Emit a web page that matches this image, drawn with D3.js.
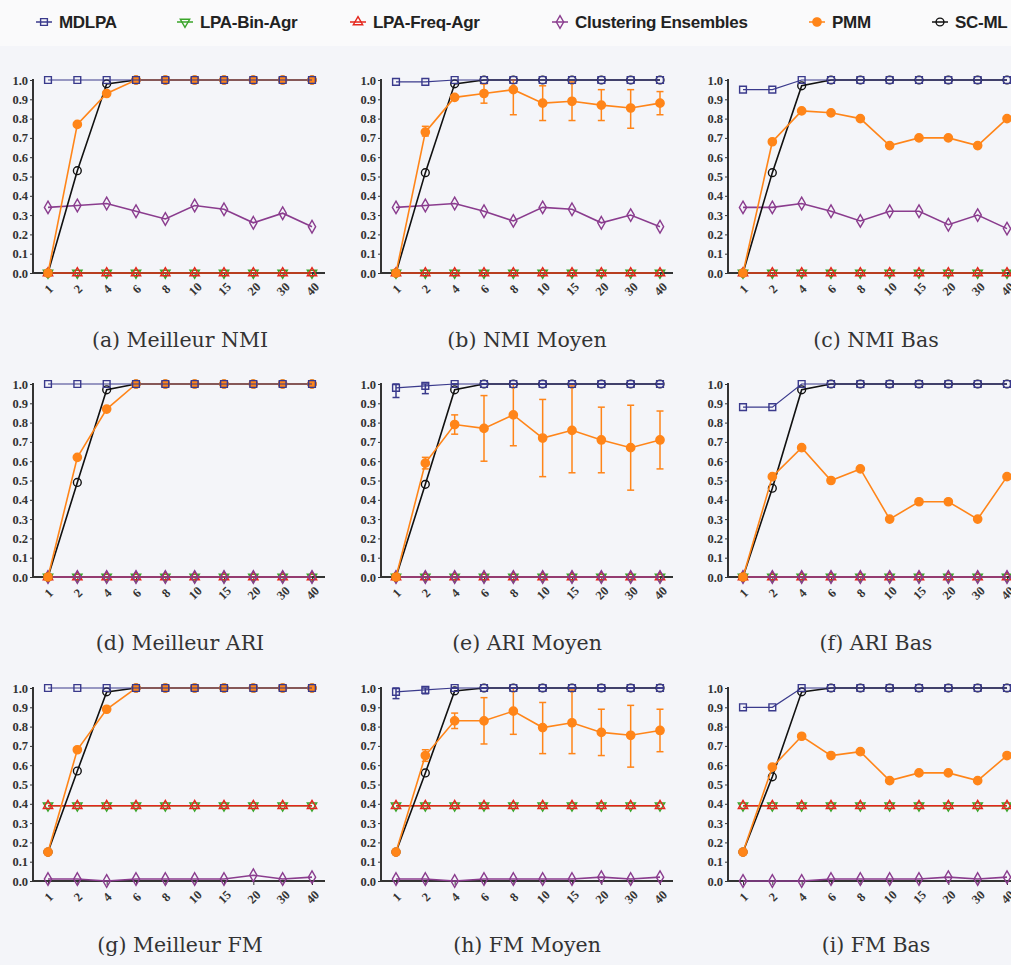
<!DOCTYPE html>
<html>
<head>
<meta charset="utf-8">
<script src="https://cdn.jsdelivr.net/npm/d3@7"></script>
<style>
  body { margin: 0; background: #f4f5f9; }
  svg { display: block; }
  .tick text { font-family: "Liberation Serif", serif; font-weight: bold; font-size: 12.5px; fill: #333; }
  .tick line { stroke: #333; }
  .caption { font-family: "DejaVu Serif", serif; font-size: 20.5px; fill: #333; }
  .legend text { font-family: "Liberation Sans Narrow", "Liberation Sans", sans-serif; font-weight: bold; font-size: 17px; fill: #222; letter-spacing: -0.3px; }
</style>
</head>
<body>
<div id="chart"></div>
<script>
"use strict";

var categories = ["1", "2", "4", "6", "8", "10", "15", "20", "30", "40"];
var yTicks = [0, 0.1, 0.2, 0.3, 0.4, 0.5, 0.6, 0.7, 0.8, 0.9, 1.0];
var captions = [
  "(a) Meilleur NMI", "(b) NMI Moyen", "(c) NMI Bas",
  "(d) Meilleur ARI", "(e) ARI Moyen", "(f) ARI Bas",
  "(g) Meilleur FM", "(h) FM Moyen", "(i) FM Bas"
];
var seriesNames = ["MDLPA", "LPA-Bin-Agr", "LPA-Freq-Agr", "Clustering Ensembles", "PMM", "SC-ML"];

//one row per panel, a to i
var mdlpa = [
  [1, 1, 1, 1, 1, 1, 1, 1, 1, 1],
  [0.99, 0.99, 1, 1, 1, 1, 1, 1, 1, 1],
  [0.95, 0.95, 1, 1, 1, 1, 1, 1, 1, 1],
  [1, 1, 1, 1, 1, 1, 1, 1, 1, 1],
  [0.98, 0.99, 1, 1, 1, 1, 1, 1, 1, 1],
  [0.88, 0.88, 1, 1, 1, 1, 1, 1, 1, 1],
  [1, 1, 1, 1, 1, 1, 1, 1, 1, 1],
  [0.98, 0.99, 1, 1, 1, 1, 1, 1, 1, 1],
  [0.90, 0.90, 1, 1, 1, 1, 1, 1, 1, 1]
];
var mdlpaLo = [null, null, null, null,
  [0.93, 0.95, 1, 1, 1, 1, 1, 1, 1, 1], null, null,
  [0.945, 0.97, 1, 1, 1, 1, 1, 1, 1, 1], null];
var mdlpaHi = [null, null, null, null,
  [1, 1, 1, 1, 1, 1, 1, 1, 1, 1], null, null,
  [1, 1, 1, 1, 1, 1, 1, 1, 1, 1], null];

var lpaBin = [
  [0, 0, 0, 0, 0, 0, 0, 0, 0, 0],
  [0, 0, 0, 0, 0, 0, 0, 0, 0, 0],
  [0, 0, 0, 0, 0, 0, 0, 0, 0, 0],
  [0, 0, 0, 0, 0, 0, 0, 0, 0, 0],
  [0, 0, 0, 0, 0, 0, 0, 0, 0, 0],
  [0, 0, 0, 0, 0, 0, 0, 0, 0, 0],
  [0.39, 0.39, 0.39, 0.39, 0.39, 0.39, 0.39, 0.39, 0.39, 0.39],
  [0.39, 0.39, 0.39, 0.39, 0.39, 0.39, 0.39, 0.39, 0.39, 0.39],
  [0.39, 0.39, 0.39, 0.39, 0.39, 0.39, 0.39, 0.39, 0.39, 0.39]
];
var lpaFreq = [
  [0, 0, 0, 0, 0, 0, 0, 0, 0, 0],
  [0, 0, 0, 0, 0, 0, 0, 0, 0, 0],
  [0, 0, 0, 0, 0, 0, 0, 0, 0, 0],
  [0, 0, 0, 0, 0, 0, 0, 0, 0, 0],
  [0, 0, 0, 0, 0, 0, 0, 0, 0, 0],
  [0, 0, 0, 0, 0, 0, 0, 0, 0, 0],
  [0.39, 0.39, 0.39, 0.39, 0.39, 0.39, 0.39, 0.39, 0.39, 0.39],
  [0.39, 0.39, 0.39, 0.39, 0.39, 0.39, 0.39, 0.39, 0.39, 0.39],
  [0.39, 0.39, 0.39, 0.39, 0.39, 0.39, 0.39, 0.39, 0.39, 0.39]
];
var ce = [
  [0.34, 0.35, 0.36, 0.32, 0.28, 0.35, 0.33, 0.26, 0.31, 0.24],
  [0.34, 0.35, 0.36, 0.32, 0.27, 0.34, 0.33, 0.26, 0.30, 0.24],
  [0.34, 0.34, 0.36, 0.32, 0.27, 0.32, 0.32, 0.25, 0.30, 0.23],
  [0, 0, 0, 0, 0, 0, 0, 0, 0, 0],
  [0, 0, 0, 0, 0, 0, 0, 0, 0, 0],
  [0, 0, 0, 0, 0, 0, 0, 0, 0, 0],
  [0.01, 0.01, 0, 0.01, 0.01, 0.01, 0.01, 0.03, 0.01, 0.02],
  [0.01, 0.01, 0, 0.01, 0.01, 0.01, 0.01, 0.02, 0.01, 0.02],
  [0, 0, 0, 0.01, 0.01, 0.01, 0.01, 0.02, 0.01, 0.02]
];
var pmm = [
  [0, 0.77, 0.93, 1, 1, 1, 1, 1, 1, 1],
  [0, 0.73, 0.91, 0.93, 0.95, 0.88, 0.89, 0.87, 0.855, 0.88],
  [0, 0.68, 0.84, 0.83, 0.80, 0.66, 0.70, 0.70, 0.66, 0.80],
  [0, 0.62, 0.87, 1, 1, 1, 1, 1, 1, 1],
  [0, 0.59, 0.79, 0.77, 0.84, 0.72, 0.76, 0.71, 0.67, 0.71],
  [0, 0.52, 0.67, 0.50, 0.56, 0.30, 0.39, 0.39, 0.30, 0.52],
  [0.15, 0.68, 0.89, 1, 1, 1, 1, 1, 1, 1],
  [0.15, 0.65, 0.83, 0.83, 0.88, 0.795, 0.82, 0.77, 0.755, 0.78],
  [0.15, 0.59, 0.75, 0.65, 0.67, 0.52, 0.56, 0.56, 0.52, 0.65]
];
var pmmLo = [null,
  [0, 0.71, 0.90, 0.88, 0.82, 0.79, 0.79, 0.79, 0.75, 0.82],
  null, null,
  [0, 0.56, 0.74, 0.60, 0.68, 0.52, 0.54, 0.54, 0.45, 0.56],
  null, null,
  [0.15, 0.62, 0.79, 0.71, 0.76, 0.66, 0.66, 0.65, 0.59, 0.67],
  null];
var pmmHi = [null,
  [0, 0.76, 0.92, 0.98, 1.0, 0.97, 0.99, 0.95, 0.95, 0.94],
  null, null,
  [0, 0.62, 0.84, 0.94, 1.0, 0.92, 0.99, 0.88, 0.89, 0.86],
  null, null,
  [0.15, 0.68, 0.87, 0.95, 1.0, 0.925, 0.99, 0.89, 0.91, 0.89],
  null];
var scml = [
  [0, 0.53, 0.98, 1, 1, 1, 1, 1, 1, 1],
  [0, 0.52, 0.98, 1, 1, 1, 1, 1, 1, 1],
  [0, 0.52, 0.97, 1, 1, 1, 1, 1, 1, 1],
  [0, 0.49, 0.97, 1, 1, 1, 1, 1, 1, 1],
  [0, 0.48, 0.97, 1, 1, 1, 1, 1, 1, 1],
  [0, 0.46, 0.97, 1, 1, 1, 1, 1, 1, 1],
  [0.15, 0.57, 0.98, 1, 1, 1, 1, 1, 1, 1],
  [0.15, 0.56, 0.985, 1, 1, 1, 1, 1, 1, 1],
  [0.15, 0.54, 0.98, 1, 1, 1, 1, 1, 1, 1]
];

var w = 1011,
  h = 965;

//panel grid: y axis x position and top (value 1.0) per column / row
var colX = [33, 381, 728],
  rowTop = [80, 384, 688],
  plotH = 193,
  captionX = [180, 527, 876],
  captionY = [340, 643, 945];

//drawing order matters: mdlpa squares end up on top
var styles = [
  { key: "lpaBin", color: "#3aa52a", sym: d3.symbolTriangle, size: 38, rot: 180, fill: "none" },
  { key: "lpaFreq", color: "#e5261c", sym: d3.symbolTriangle, size: 38, rot: 0, fill: "none" },
  { key: "ce", color: "#8a3c8e", sym: d3.symbolDiamond, size: 46, rot: 0, fill: "none" },
  { key: "scml", color: "#111111", sym: d3.symbolCircle, size: 48, rot: 0, fill: "none" },
  { key: "pmm", color: "#ff8519", sym: d3.symbolCircle, size: 54, rot: 0, fill: "#ff8519" },
  { key: "mdlpa", color: "#3a3a8c", sym: d3.symbolSquare, size: 46, rot: 0, fill: "none" }
];
var dataByKey = { mdlpa: mdlpa, lpaBin: lpaBin, lpaFreq: lpaFreq, ce: ce, pmm: pmm, scml: scml };
var loByKey = { mdlpa: mdlpaLo, pmm: pmmLo };
var hiByKey = { mdlpa: mdlpaHi, pmm: pmmHi };

var svg = d3
  .select("#chart")
  .append("svg")
  .attr("width", w)
  .attr("height", h);

svg.append("rect").attr("width", w).attr("height", 46).attr("fill", "#fafafb");

//legend
var legendItems = [
  { name: seriesNames[0], style: styles[5], x: 44 },
  { name: seriesNames[1], style: styles[0], x: 185 },
  { name: seriesNames[2], style: styles[1], x: 358 },
  { name: seriesNames[3], style: styles[2], x: 560 },
  { name: seriesNames[4], style: styles[4], x: 817 },
  { name: seriesNames[5], style: styles[3], x: 940 }
];

var legend = svg.append("g").attr("class", "legend");
legendItems.forEach(function(d) {
  var g = legend.append("g").attr("transform", "translate(" + d.x + ",22)");
  g.append("line")
    .attr("x1", -8)
    .attr("x2", 8)
    .attr("stroke", d.style.color)
    .attr("stroke-width", 1.5);
  g.append("path")
    .attr("d", d3.symbol().type(d.style.sym).size(d.style.size)())
    .attr("transform", "rotate(" + d.style.rot + ")")
    .attr("fill", d.style.fill)
    .attr("stroke", d.style.color)
    .attr("stroke-width", 1.4);
  g.append("text")
    .attr("x", 15)
    .attr("dy", "0.36em")
    .text(d.name);
});

function drawPanel(p) {
  var ax = colX[p % 3],
    top = rowTop[Math.floor(p / 3)],
    bottom = top + plotH;

  var x = d3
    .scalePoint()
    .domain(categories)
    .range([ax + 15, ax + 279]);

  var y = d3
    .scaleLinear()
    .domain([0, 1])
    .range([bottom, top]);

  var g = svg.append("g").attr("class", "panel");

  //axes
  g.append("g")
    .attr("transform", "translate(" + ax + ",0)")
    .call(
      d3
        .axisLeft(y)
        .tickValues(yTicks)
        .tickFormat(d3.format(".1f"))
        .tickSize(3)
        .tickPadding(2)
    )
    .call(function(s) {
      s.select(".domain").remove();
    });

  var xa = g
    .append("g")
    .attr("transform", "translate(0," + bottom + ")")
    .call(d3.axisBottom(x).tickSize(4).tickSizeOuter(0));
  xa.select(".domain").remove();
  //rotated labels centred under each tick
  xa.selectAll("text")
    .attr("y", 0)
    .attr("dy", "0.35em")
    .attr("text-anchor", "middle")
    .attr("transform", "translate(0,16) rotate(-45)");

  g.append("line")
    .attr("x1", ax)
    .attr("x2", ax)
    .attr("y1", top - 1)
    .attr("y2", bottom)
    .attr("stroke", "#333")
    .attr("stroke-width", 2);
  g.append("line")
    .attr("x1", ax)
    .attr("x2", ax + 292)
    .attr("y1", bottom)
    .attr("y2", bottom)
    .attr("stroke", "#333")
    .attr("stroke-width", 2);

  var line = d3
    .line()
    .x(function(d, i) {
      return x(categories[i]);
    })
    .y(function(d) {
      return y(d);
    });

  styles.forEach(function(st) {
    var vals = dataByKey[st.key][p];
    var lo = loByKey[st.key] ? loByKey[st.key][p] : null;
    var hi = hiByKey[st.key] ? hiByKey[st.key][p] : null;
    var sg = g.append("g").attr("class", st.key);

    //error bars
    if (lo && hi) {
      var eb = sg
        .selectAll(".err")
        .data(vals)
        .enter()
        .append("g")
        .attr("class", "err")
        .attr("stroke", st.color)
        .attr("stroke-width", 1.5);
      eb.append("line")
        .attr("x1", function(d, i) { return x(categories[i]); })
        .attr("x2", function(d, i) { return x(categories[i]); })
        .attr("y1", function(d, i) { return y(lo[i]); })
        .attr("y2", function(d, i) { return y(hi[i]); });
      [lo, hi].forEach(function(arr) {
        eb.append("line")
          .attr("x1", function(d, i) { return x(categories[i]) - 3.5; })
          .attr("x2", function(d, i) { return x(categories[i]) + 3.5; })
          .attr("y1", function(d, i) { return y(arr[i]); })
          .attr("y2", function(d, i) { return y(arr[i]); });
      });
    }

    sg.append("path")
      .attr("d", line(vals))
      .attr("fill", "none")
      .attr("stroke", st.color)
      .attr("stroke-width", st.key === "mdlpa" ? 1.2 : 1.6);

    sg.selectAll(".mark")
      .data(vals)
      .enter()
      .append("path")
      .attr("class", "mark")
      .attr("d", d3.symbol().type(st.sym).size(st.size)())
      .attr("transform", function(d, i) {
        return "translate(" + x(categories[i]) + "," + y(d) + ") rotate(" + st.rot + ")";
      })
      .attr("fill", st.fill)
      .attr("stroke", st.color)
      .attr("stroke-width", 1.4);
  });

  g.append("text")
    .attr("class", "caption")
    .attr("x", captionX[p % 3])
    .attr("y", captionY[Math.floor(p / 3)])
    .attr("text-anchor", "middle")
    .attr("dy", "0.35em")
    .text(captions[p]);
}

for (var p = 0; p < 9; p++) drawPanel(p);
</script>
</body>
</html>
